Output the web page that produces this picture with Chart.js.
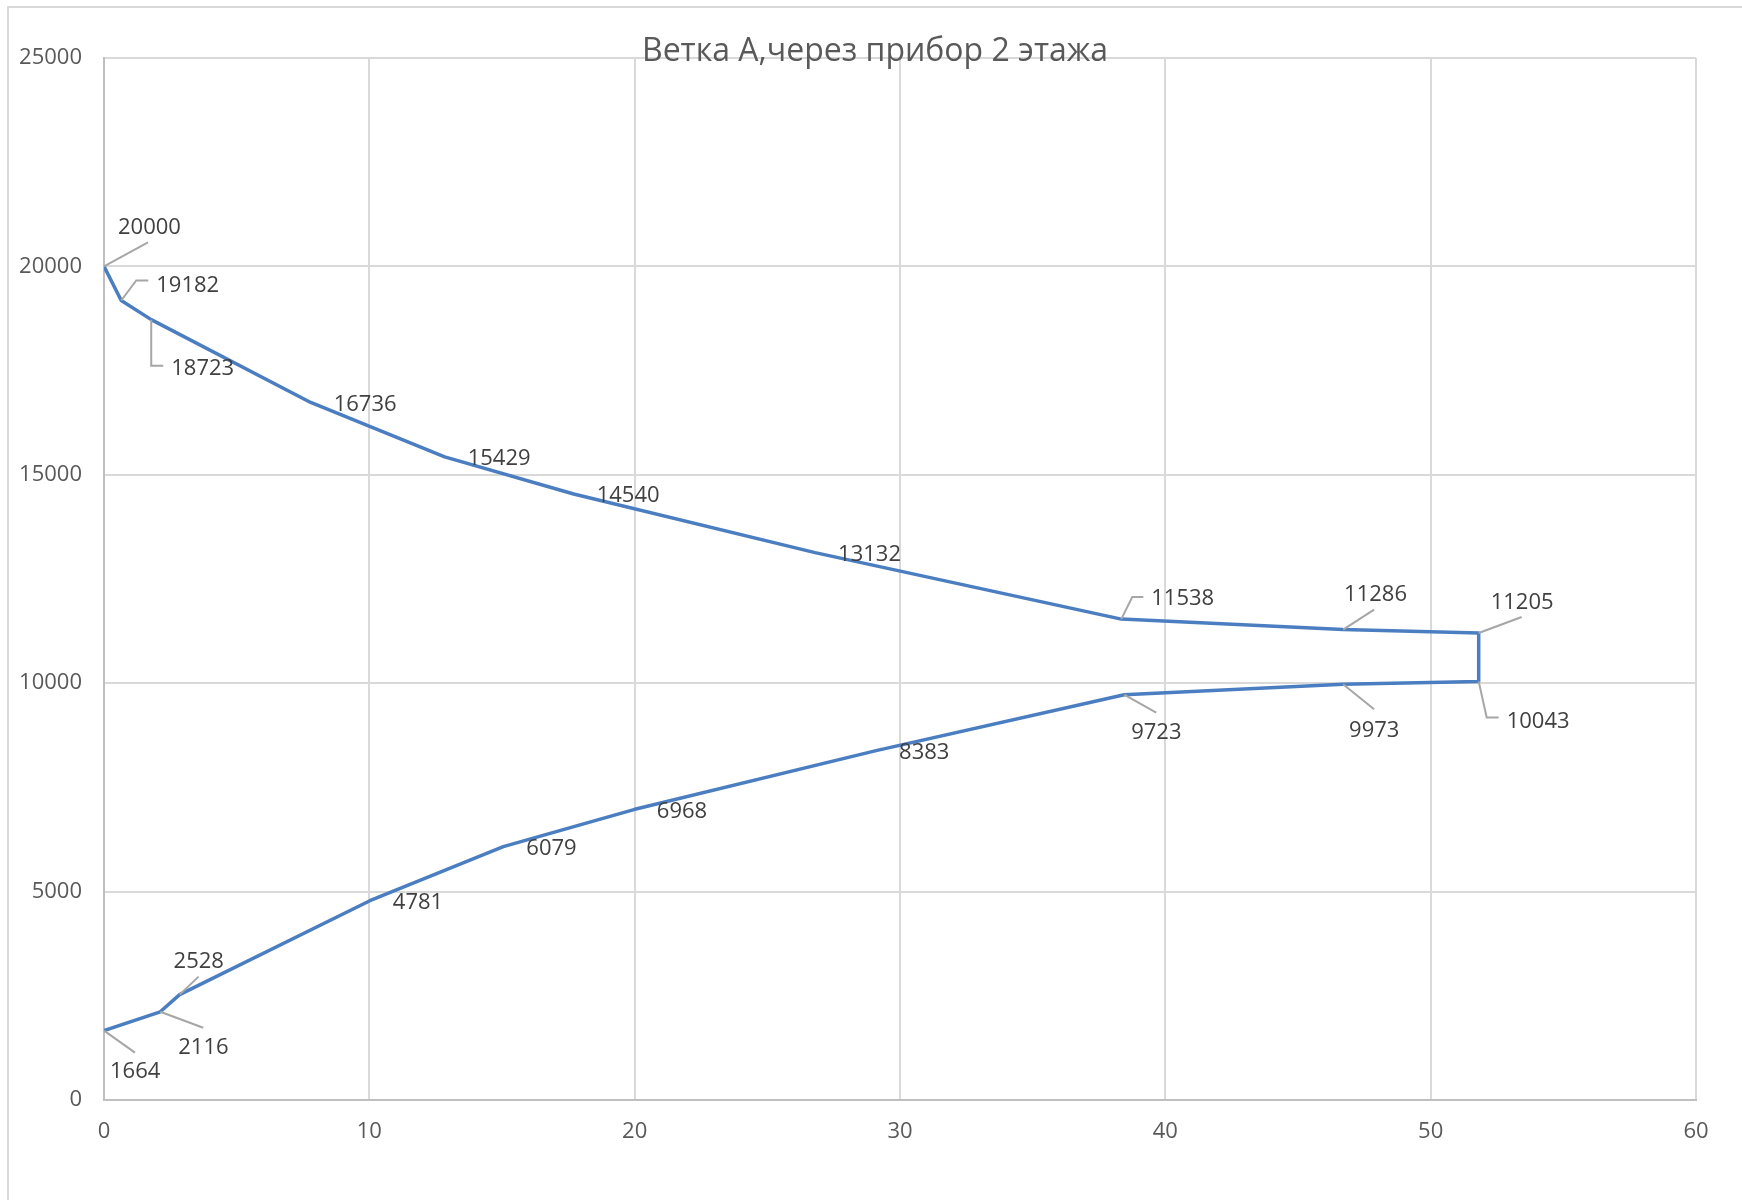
<!DOCTYPE html>
<html>
<head>
<meta charset="utf-8">
<script src="https://cdn.jsdelivr.net/npm/chart.js@4.4.1/dist/chart.umd.min.js"></script>
<style>
  html, body { margin: 0; padding: 0; background: #ffffff; }
  #wrap { width: 1742px; height: 1200px; position: relative; }
</style>
</head>
<body>
<div id="wrap"><canvas id="chart"></canvas></div>
<script>
// Branch A: pressure along the pipe run (there and back through the 2nd floor unit)
const chartTitle = 'Ветка А,через прибор 2 этажа';

// distance along the run
const distance = [0, 0.65, 1.78, 7.79, 12.84, 17.7, 26.8, 38.34, 46.7, 51.81,
                  51.81, 46.7, 38.45, 29.1, 19.97, 15.05, 10.02, 2.85, 2.12, 0];
// pressure at each node
const pressure = [20000, 19182, 18723, 16736, 15429, 14540, 13132, 11538, 11286, 11205,
                  10043, 9973, 9723, 8383, 6968, 6079, 4781, 2528, 2116, 1664];

// axis ranges and tick steps
const xRange = [0, 60];
const xStep = 10;
const yRange = [0, 25000];
const yStep = 5000;

// where each value label sits relative to its node, with optional leader line
const R = { dx: 23, dy: 2 };
const labelLayout = [
  { dx: 14, dy: -39, leader: [[44, -24]] },
  { dx: 35, dy: -15, leader: [[15, -20], [27, -20]] },
  { dx: 20, dy: 49, leader: [[0, 46], [12, 46]] },
  R, R, R, R,
  { dx: 30, dy: -20, leader: [[11, -22], [22, -22]] },
  { dx: 1, dy: -35, leader: [[31, -20]] },
  { dx: 12, dy: -30, leader: [[43, -16]] },
  { dx: 28, dy: 40, leader: [[8, 36], [20, 36]] },
  { dx: 6, dy: 46, leader: [[31, 25]] },
  { dx: 7, dy: 38, leader: [[32, 18]] },
  R, R, R, R,
  { dx: -6, dy: -33, leader: [[19, -18]] },
  { dx: 18, dy: 36, leader: [[43, 16]] },
  { dx: 6, dy: 41, leader: [[31, 22]] }
];

const FONT = '"Open Sans", "Noto Sans", sans-serif';

const frame = {
  id: 'frame',
  beforeDraw(chart) {
    const ctx = chart.ctx;
    ctx.save();
    ctx.fillStyle = '#ffffff';
    ctx.fillRect(0, 0, chart.width, chart.height);
    ctx.strokeStyle = '#d9d9d9';
    ctx.lineWidth = 2;
    ctx.beginPath();
    ctx.moveTo(8, chart.height);
    ctx.lineTo(8, 7);
    ctx.lineTo(chart.width, 7);
    ctx.stroke();
    ctx.restore();
  }
};

const valueLabels = {
  id: 'valueLabels',
  afterDatasetsDraw(chart) {
    const ctx = chart.ctx;
    const meta = chart.getDatasetMeta(0);
    ctx.save();
    meta.data.forEach((el, i) => {
      const lay = labelLayout[i];
      const px = el.x, py = el.y;
      if (lay.leader) {
        ctx.beginPath();
        ctx.moveTo(px, py);
        lay.leader.forEach(([lx, ly]) => ctx.lineTo(px + lx, py + ly));
        ctx.strokeStyle = '#a6a6a6';
        ctx.lineWidth = 2;
        ctx.stroke();
      }
      ctx.fillStyle = '#404040';
      ctx.font = '22px ' + FONT;
      ctx.textAlign = 'left';
      ctx.textBaseline = 'middle';
      ctx.fillText(String(pressure[i]), px + lay.dx, py + lay.dy);
    });
    ctx.restore();
  }
};

const titleText = {
  id: 'titleText',
  afterDraw(chart) {
    const ctx = chart.ctx;
    ctx.save();
    ctx.fillStyle = '#595959';
    ctx.font = '32px ' + FONT;
    ctx.textAlign = 'center';
    ctx.textBaseline = 'alphabetic';
    ctx.fillText(chartTitle, 875, 61);
    ctx.restore();
  }
};

new Chart(document.getElementById('chart'), {
  type: 'scatter',
  data: {
    datasets: [{
      data: distance.map((x, i) => ({ x, y: pressure[i] })),
      showLine: true,
      borderColor: '#4a7ec1',
      backgroundColor: '#4a7ec1',
      borderWidth: 3.5,
      borderJoinStyle: 'round',
      pointRadius: 0,
      pointHoverRadius: 0,
      tension: 0,
      fill: false
    }]
  },
  options: {
    responsive: true,
    maintainAspectRatio: false,
    animation: false,
    events: [],
    layout: { padding: { top: 58, right: 46, left: 0, bottom: 0 } },
    plugins: {
      legend: { display: false },
      tooltip: { enabled: false },
      title: { display: false }
    },
    scales: {
      x: {
        type: 'linear',
        min: xRange[0],
        max: xRange[1],
        ticks: {
          stepSize: xStep,
          color: '#595959',
          font: { family: FONT, size: 22 },
          padding: 19,
          callback: v => String(v)
        },
        grid: { color: '#d9d9d9', lineWidth: 2, drawTicks: false },
        border: { color: '#bfbfbf', width: 2 },
        afterFit(s) { s.height = 100; }
      },
      y: {
        type: 'linear',
        min: yRange[0],
        max: yRange[1],
        ticks: {
          stepSize: yStep,
          color: '#595959',
          font: { family: FONT, size: 22 },
          padding: 22,
          callback: v => String(v)
        },
        grid: { color: '#d9d9d9', lineWidth: 2, drawTicks: false },
        border: { color: '#bfbfbf', width: 2 },
        afterFit(s) { s.width = 104; }
      }
    }
  },
  plugins: [frame, valueLabels, titleText]
});
</script>
</body>
</html>
